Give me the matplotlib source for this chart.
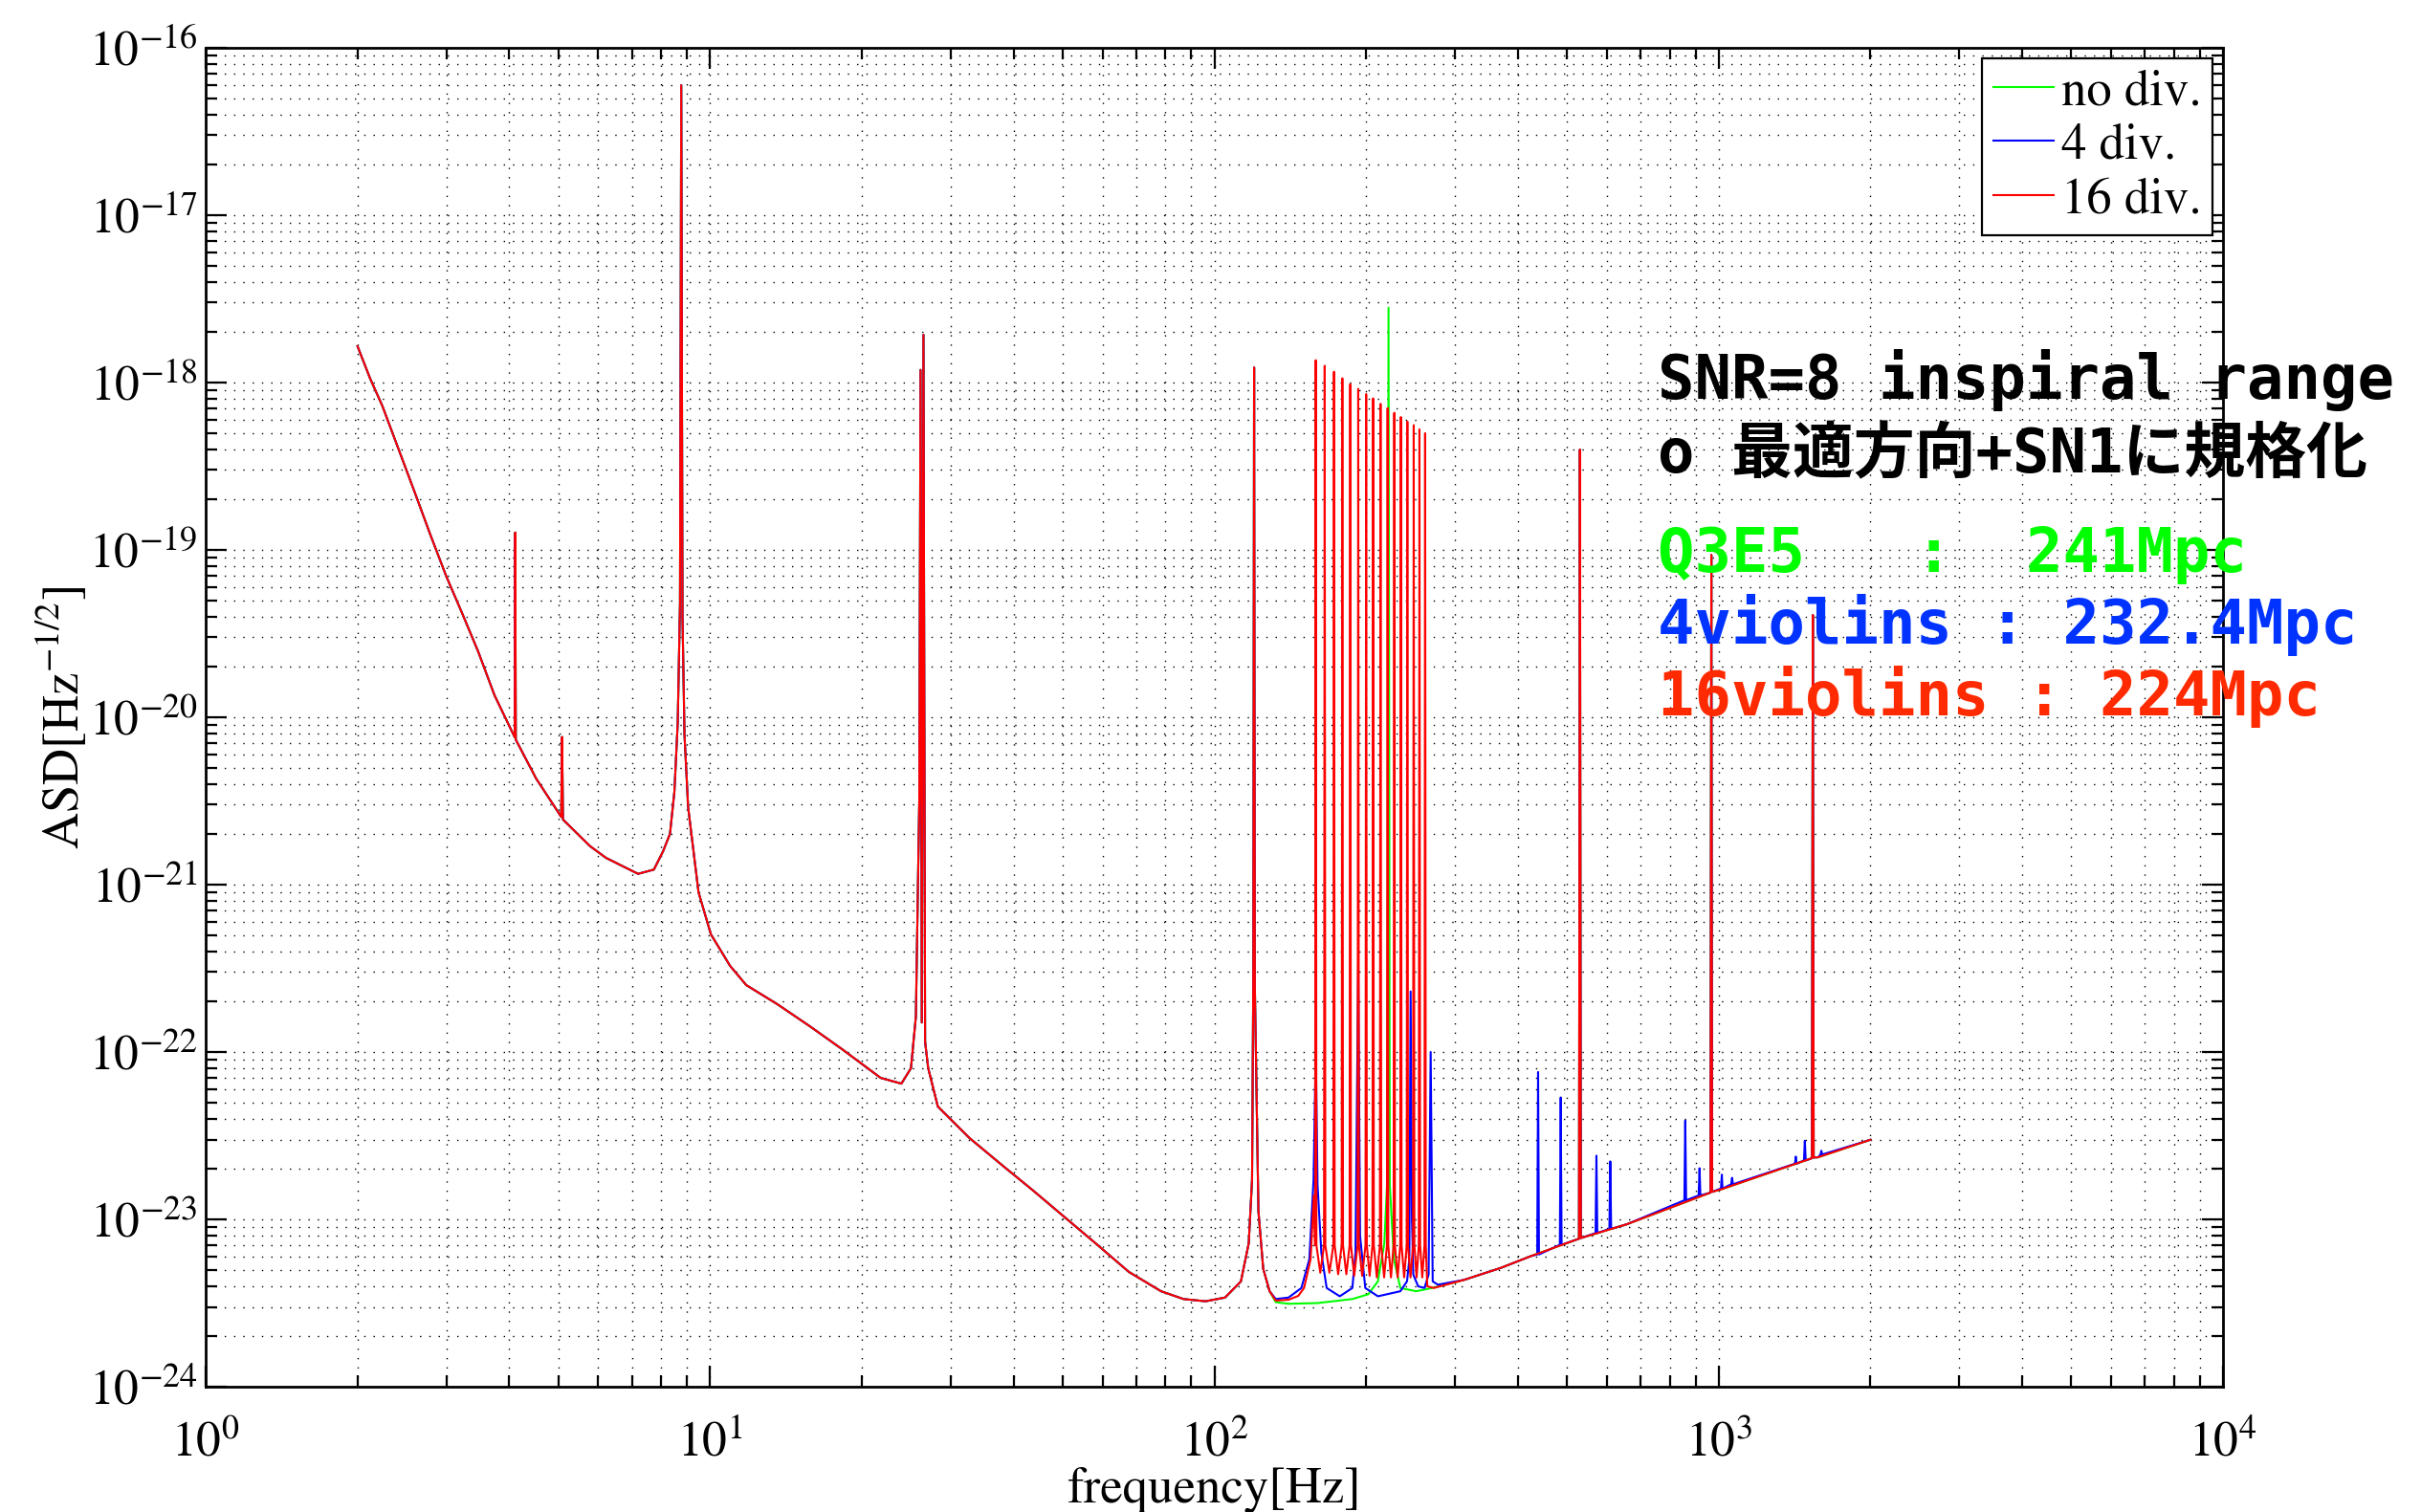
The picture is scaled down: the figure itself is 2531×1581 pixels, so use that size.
import matplotlib
matplotlib.use("Agg")
import matplotlib.pyplot as plt
from matplotlib.ticker import LogLocator, NullFormatter

plt.rcParams['font.family'] = ['STIXGeneral']
plt.rcParams['mathtext.fontset'] = 'stix'

# ---------------- data (frequency [Hz], ASD [Hz^-1/2]) ----------------
# part shared by all three curves, 2 Hz .. 128.7 Hz
F_LOW = [2.0, 2.118, 2.24, 2.414, 2.6, 2.79, 3.0, 3.23, 3.47, 3.74, 4.10, 4.11,
         4.12, 4.52, 5.07, 5.09, 5.11, 5.78, 6.22, 7.2, 7.74, 8.07, 8.33, 8.5,
         8.63, 8.72, 8.77, 8.82, 8.9, 9.05, 9.49, 10.04, 10.96, 11.8, 13.6, 15.8,
         18.27, 21.8, 23.96, 25.03, 25.6, 26.0, 26.15, 26.3, 26.5, 26.7, 27.08,
         28.3, 32.7, 38.0, 43.8, 50.7, 58.6, 67.7, 78.4, 86.9, 96.1, 105.0, 112.9,
         117.0, 118.8, 119.5, 119.9, 120.3, 122.3, 125.0, 128.7]
A_LOW = [1.65e-18, 1.06e-18, 7.26e-19, 3.98e-19, 2.19e-19, 1.23e-19, 6.95e-20,
         4.14e-20, 2.47e-20, 1.35e-20, 7.6e-21, 1.27e-19, 7.35e-21, 4.31e-21,
         2.54e-21, 7.62e-21, 2.45e-21, 1.70e-21, 1.445e-21, 1.16e-21, 1.23e-21,
         1.58e-21, 2.01e-21, 3.6e-21, 9.25e-21, 4.74e-20, 5.98e-17, 4.0e-20,
         7.9e-21, 2.9e-21, 9.0e-22, 5.05e-22, 3.27e-22, 2.51e-22, 1.93e-22,
         1.42e-22, 1.04e-22, 7.0e-23, 6.47e-23, 8.0e-23, 1.63e-22, 3.2e-21,
         1.19e-18, 1.5e-22, 1.93e-18, 1.15e-22, 8.0e-23, 4.72e-23, 3.06e-23,
         2.1e-23, 1.48e-23, 1.02e-23, 7.05e-24, 4.85e-24, 3.72e-24, 3.34e-24,
         3.24e-24, 3.41e-24, 4.26e-24, 7.19e-24, 1.73e-23, 3.2e-22, 1.23e-18,
         2.5e-22, 1.12e-23, 5.07e-24, 3.72e-24]

# violin-mode region, "no div."
F_GREEN = [132.4, 140.3, 160.0, 187.8, 202.0, 211.0, 217.3, 220.3, 221.5, 222.8,
           227.0, 233.8, 251.3, 270.4]
A_GREEN = [3.2e-24, 3.13e-24, 3.16e-24, 3.34e-24, 3.57e-24, 4.26e-24, 7.19e-24,
           1.73e-23, 2.8e-18, 1.6e-23, 5.78e-24, 3.89e-24, 3.72e-24, 3.89e-24]

# violin-mode region, "4 div."
F_BLUE = [132.4, 140.3, 148.8, 154.3, 157.3, 158.9, 160.2, 163.0, 167.0, 177.3,
          187.8, 190.5, 192.9, 194.5, 199.2, 211.0, 233.8, 241.0, 243.6, 245.0,
          246.5, 248.0, 253.6, 261.0, 266.0, 268.5, 271.0, 277.5]
A_BLUE = [3.34e-24, 3.41e-24, 3.89e-24, 5.78e-24, 1.73e-23, 1.0e-22, 1.6e-23,
          6.3e-24, 3.89e-24, 3.47e-24, 3.89e-24, 6.3e-24, 3.3e-22, 8.0e-24,
          3.89e-24, 3.47e-24, 3.72e-24, 4.26e-24, 5.78e-24, 2.3e-22, 1.0e-23,
          4.68e-24, 3.98e-24, 3.89e-24, 4.68e-24, 1.0e-22, 4.26e-24, 4.07e-24]

# violin-mode region, "16 div."
F_RED_PRE = [132.4, 140.3, 146.7, 150.6, 155.2, 157.5]
A_RED_PRE = [3.27e-24, 3.31e-24, 3.49e-24, 3.89e-24, 5.78e-24, 1.39e-23]
F_VIOLIN = [158.9, 165.5, 172.7, 179.4, 186.0, 192.9, 200.0, 206.5, 213.6, 220.6,
            227.4, 234.4, 241.4, 248.5, 255.1, 261.8]
A_VIOLIN = [1.36e-18, 1.26e-18, 1.16e-18, 1.06e-18, 9.77e-19, 9.16e-19, 8.53e-19,
            8.04e-19, 7.46e-19, 7.03e-19, 6.59e-19, 6.22e-19, 5.85e-19, 5.56e-19,
            5.25e-19, 4.98e-19]
# level where each violin line starts to bend into its valley
A_SHOULDER = [7.0e-24, 7.0e-24, 7.0e-24, 7.0e-24, 7.0e-24, 7.0e-24, 7.0e-24,
              7.0e-24, 7.0e-24, 7.0e-24, 7.0e-24, 7.0e-24, 7.0e-24, 7.0e-24,
              7.0e-24, 7.0e-24]
F_VALLEY = [162.2, 169.1, 176.0, 182.7, 189.4, 196.4, 203.2, 210.0, 217.1, 224.0,
            230.9, 237.9, 244.9, 251.8, 258.4]
A_VALLEY = [4.8e-24, 4.8e-24, 4.7e-24, 4.7e-24, 4.6e-24, 4.6e-24, 4.6e-24, 4.5e-24,
            4.5e-24, 4.5e-24, 4.5e-24, 4.5e-24, 4.5e-24, 4.5e-24, 4.5e-24]
F_RED_POST = [264.4, 272.4]
A_RED_POST = [3.98e-24, 3.89e-24]

# shared high-frequency part, 312.8 Hz .. 2 kHz
F_HIGH = [312.8, 370.0, 424.9, 528.5, 530.8, 533.0, 657.7, 963.5, 967.0, 970.5,
          1017.6, 1531.0, 1537.0, 1543.0, 1575.0, 2000.0]
A_HIGH = [4.35e-24, 5.13e-24, 6.04e-24, 7.66e-24, 3.98e-19, 7.73e-24, 9.35e-24,
          1.445e-23, 9.33e-20, 1.46e-23, 1.52e-23, 2.32e-23, 4.08e-20, 2.34e-23,
          2.35e-23, 2.99e-23]

# extra high-frequency peaks of the "4 div." curve
F_BLUE_HF = [438.5, 486.2, 572.3, 609.6, 858.5, 916.3, 1014.6, 1063.0, 1422.0,
             1482.0, 1598.0]
TOP_BLUE_HF = [7.59e-23, 5.35e-23, 2.40e-23, 2.22e-23, 3.89e-23, 2.02e-23,
               1.85e-23, 1.77e-23, 2.37e-23, 2.95e-23, 2.57e-23]
FOOT_BLUE_HF = [6.17e-24, 7.05e-24, 8.28e-24, 8.77e-24, 1.30e-23, 1.39e-23,
                1.53e-23, 1.62e-23, 2.15e-23, 2.25e-23, 2.44e-23]

LABELS = ['no div.', '4 div.', '16 div.']
COLORS = ['#00ff00', '#0000ff', '#ff0000']

TEXT_LINES = ['SNR=8 inspiral range', 'o 最適方向+SN1に規格化',
              'Q3E5   :  241Mpc', '4violins : 232.4Mpc', '16violins : 224Mpc']
TEXT_COLORS = ['black', 'black', '#00ff00', '#0033ff', '#ff2a00']

# ---------------- assemble series ----------------
green_f = F_LOW + F_GREEN + F_HIGH
green_a = A_LOW + A_GREEN + A_HIGH

hf_pts = list(zip(F_HIGH, A_HIGH))
for f, top, foot in zip(F_BLUE_HF, TOP_BLUE_HF, FOOT_BLUE_HF):
    hf_pts += [(f * 0.996, foot), (f, top), (f * 1.004, foot)]
hf_pts.sort()
blue_f = F_LOW + F_BLUE + [p[0] for p in hf_pts]
blue_a = A_LOW + A_BLUE + [p[1] for p in hf_pts]

vf, va = [], []
for i in range(len(F_VIOLIN)):
    f = F_VIOLIN[i]
    vf += [f * 0.997, f, f * 1.003]
    va += [A_SHOULDER[i], A_VIOLIN[i], A_SHOULDER[i]]
    if i < len(F_VALLEY):
        vf.append(F_VALLEY[i]); va.append(A_VALLEY[i])
red_f = F_LOW + F_RED_PRE + vf + F_RED_POST + F_HIGH
red_a = A_LOW + A_RED_PRE + va + A_RED_POST + A_HIGH

# ---------------- figure ----------------
fig = plt.figure(figsize=(25.31, 15.81), dpi=100)
ax = fig.add_axes([0.08495, 0.08286, 0.83327, 0.88552])

for fr, am, lab, col in zip([green_f, blue_f, red_f], [green_a, blue_a, red_a],
                            LABELS, COLORS):
    ax.plot(fr, am, color=col, lw=1.5, label=lab)

ax.set_xscale('log')
ax.set_yscale('log')
ax.set_xlim(1, 1e4)
ax.set_ylim(1e-24, 1e-16)
ax.xaxis.set_major_locator(LogLocator(base=10, numticks=20))
ax.yaxis.set_major_locator(LogLocator(base=10, numticks=20))
ax.xaxis.set_minor_locator(LogLocator(base=10, subs=range(2, 10), numticks=50))
ax.yaxis.set_minor_locator(LogLocator(base=10, subs=range(2, 10), numticks=50))
ax.xaxis.set_minor_formatter(NullFormatter())
ax.yaxis.set_minor_formatter(NullFormatter())

ax.set_axisbelow(True)
ax.grid(True, which='both', linestyle=(0, (1, 6)), color='black', linewidth=1.0)
ax.tick_params(which='both', direction='in', top=True, right=True, labelsize=37,
               width=1.6, colors='black')
ax.tick_params(which='major', length=16)
ax.tick_params(which='minor', length=8.5)
ax.tick_params(axis='x', which='major', pad=26)
ax.tick_params(axis='y', which='major', pad=6)
for s in ax.spines.values():
    s.set_linewidth(2.0)

ax.set_xlabel('frequency[Hz]', fontsize=38)
ax.set_ylabel(r'ASD[Hz$^{-1/2}$]', fontsize=38)
ax.xaxis.set_label_coords(0.5, -0.06)
ax.yaxis.set_label_coords(-0.0568, 0.5)

leg = ax.legend(loc='upper right', fontsize=38, frameon=True, fancybox=False,
                framealpha=1.0, edgecolor='black', handlelength=1.2,
                handletextpad=0.15, labelspacing=0.14, borderpad=0.22,
                borderaxespad=0.2)
leg.get_frame().set_linewidth(1.6)

ys = [417, 494, 598, 673, 748]
for txt, col, yp in zip(TEXT_LINES, TEXT_COLORS, ys):
    fig.text(1733 / 2531, 1 - yp / 1581, txt, color=col, fontsize=46,
             fontweight='bold', family=['DejaVu Sans Mono', 'Noto Sans CJK JP'],
             ha='left', va='baseline')

fig.savefig('out.png', dpi=100)
